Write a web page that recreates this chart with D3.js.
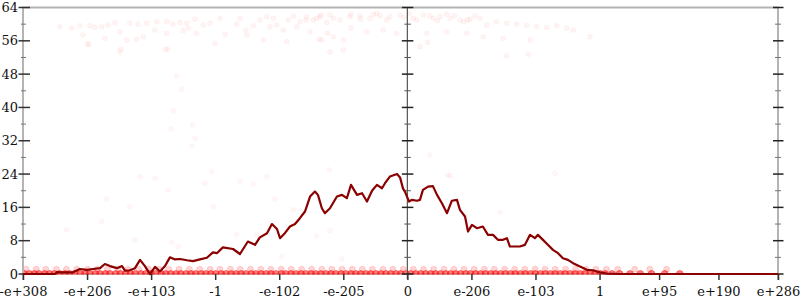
<!DOCTYPE html>
<html>
<head>
<meta charset="utf-8">
<script src="https://cdn.jsdelivr.net/npm/d3@7"></script>
<style>
  body { margin: 0; background: #fff; }
  svg { display: block; font-family: "DejaVu Serif", serif; }
</style>
</head>
<body>
<svg id="chart" width="800" height="300"></svg>
<script>
// x is measured in exponent steps of the float bit pattern, sign folded in
var xTickValues = [-2046, -1705, -1364, -1023, -682, -341, 0, 341, 682, 1023, 1340, 1656, 1973];
var xTickLabels = ["-e+308", "-e+206", "-e+103", "-1", "-e-102", "-e-205", "0",
                   "e-206", "e-103", "1", "e+95", "e+190", "e+286"];
var yTickValues = [0, 8, 16, 24, 32, 40, 48, 56, 64];
var yMinorValues = [4, 12, 20, 28, 36, 44, 52, 60];

// running mean line
var lineX = [-2046, -1876, -1865, -1833, -1780, -1743, -1705, -1673, -1636, -1610, -1583, -1546,
  -1519, -1503, -1477, -1450, -1423, -1397, -1370, -1343, -1317, -1290, -1264, -1237, -1210,
  -1173, -1141, -1104, -1067, -1035, -1014, -982, -928, -891, -849, -811, -785, -747, -721,
  -694, -678, -652, -625, -598, -572, -545, -518, -492, -476, -455, -439, -412, -375, -348,
  -322, -300, -268, -241, -215, -188, -162, -135, -119, -93, -55, -39, -23, -13, 9, 24, 51,
  67, 83, 110, 136, 158, 184, 211, 237, 264, 280, 307, 323, 344, 370, 402, 429, 456, 482,
  509, 530, 546, 573, 599, 626, 653, 679, 695, 722, 748, 775, 802, 828, 855, 882, 919, 956,
  988, 1025, 1062, 1132, 1973];
var lineY = [0, 0, 0.45, 0.4, 0.4, 1.2, 1.0, 1.2, 1.4, 2.4, 1.9, 1.4,
  1.9, 0.8, 0.9, 1.4, 3.4, 1.9, 0, 1.7, 0.6, 1.9, 4.0, 3.5, 3.6,
  3.3, 3.1, 3.5, 3.9, 5.2, 5.0, 6.4, 6.0, 4.8, 7.8, 7.0, 8.8, 9.8, 12.0,
  10.8, 8.6, 9.8, 11.4, 12.0, 13.4, 15.0, 18.6, 19.8, 19.0, 15.8, 14.6, 15.8, 18.6, 19.0,
  18.2, 21.4, 19.0, 19.4, 17.4, 20.0, 21.4, 20.6, 21.8, 23.4, 24.0, 23.2, 20.5, 19.8, 17.4, 17.8, 17.6,
  17.8, 20.2, 21.0, 21.1, 19.0, 17.0, 14.6, 17.6, 17.8, 15.4, 13.8, 10.2, 11.8, 11.0, 11.4, 9.4, 9.4, 8.2,
  8.2, 8.6, 6.6, 6.6, 6.6, 7.0, 9.4, 8.6, 9.4, 8.2, 7.0, 5.8, 5.0, 3.8, 3.4, 2.6, 1.8, 1.0,
  0.9, 0.4, 0.1, 0, 0];

// single samples near the top of the range
var topPoints = [[-1850, 59.4], [-1787, 59.0], [-1743, 59.6], [-1690, 59.6], [-1663, 59.2],
  [-1627, 59.4], [-1594, 59.8], [-1557, 60.4], [-1530, 58.2], [-1727, 57.4], [-1700, 55.2],
  [-1610, 56.6], [-1477, 60.2], [-1434, 60.0], [-1388, 60.2], [-1334, 60.6], [-1281, 60.6],
  [-1248, 60.0], [-1210, 60.4], [-1175, 60.2], [-1131, 61.2], [-1494, 56.2], [-1441, 56.4],
  [-1406, 57.0], [-1344, 58.6], [-1281, 57.8], [-1193, 58.4], [-1166, 59.0], [-1122, 57.8],
  [-1086, 59.8], [-1051, 60.2], [-998, 61.4], [-971, 57.6], [-909, 60.0], [-891, 61.4],
  [-855, 57.4], [-820, 59.6], [-785, 61.0], [-749, 61.8], [-714, 61.4], [-696, 59.8],
  [-661, 58.6], [-634, 61.0], [-607, 61.9], [-572, 60.6], [-536, 61.7], [-501, 61.0],
  [-465, 61.8], [-430, 60.4], [-394, 61.4], [-1024, 55.4], [-767, 56.2], [-642, 55.8],
  [-456, 56.2], [-1525, 54.0], [-1286, 54.0], [-394, 57.0], [-860, 58.6], [-731, 59.4],
  [-589, 59.4], [-540, 61.0], [-483, 61.4], [-412, 62.2], [-359, 61.0], [-306, 61.8],
  [-252, 62.0], [-199, 61.4], [-146, 62.0], [-93, 61.8], [-39, 62.2], [31, 61.4], [85, 62.2],
  [138, 61.4], [174, 61.8], [227, 61.4], [280, 61.0], [334, 61.2], [387, 61.4], [422, 59.8],
  [475, 60.6], [529, 60.2], [582, 60.0], [635, 59.8], [688, 59.4], [742, 59.2], [795, 59.6],
  [848, 59.0], [883, 58.6], [972, 57.0], [-518, 58.2], [-425, 57.8], [-300, 59.0],
  [-217, 58.2], [-128, 58.6], [-57, 57.8], [103, 57.8], [209, 58.2], [316, 57.8], [404, 57.0],
  [510, 56.6], [653, 56.2], [-341, 56.2], [108, 55.6], [-470, 56.4], [-412, 53.4], [529, 52.4],
  [644, 52.8], [-341, 53.8], [67, 54.6], [320, 61.0], [-460, 62.2], [-163, 62.6], [209, 62.4],
  [-300, 62.4], [-250, 61.2], [-180, 62.3], [-110, 61.0], [-20, 61.6], [10, 62.6], [50, 61.0],
  [120, 62.0], [160, 60.8], [250, 62.0], [300, 60.6], [360, 62.0]];

// stray samples in the middle of the range
var midPoints = [[-1814, 10.6], [-1627, 12.6], [-1601, 18.0], [-1477, 16.2], [-1450, 8.2],
  [-1423, 23.4], [-1343, 23.0], [-1273, 20.2], [-1255, 7.6], [-1220, 6.6], [-1078, 21.8],
  [-1042, 24.6], [-1033, 16.2], [-1228, 47.6], [-1201, 44.4], [-1246, 39.2], [-1258, 34.8],
  [-1143, 35.8], [-1131, 32.6], [-1148, 30.8], [-1276, 54.0], [-1530, 53.4], [-1699, 55.2],
  [-891, 22.2], [-820, 21.6], [-749, 23.4], [-705, 18.0], [-607, 15.4], [-909, 9.4],
  [-802, 9.4], [-669, 4.2], [-483, 9.2], [-412, 10.4], [-350, 3.6], [-415, 25.0], [227, 23.6],
  [493, 14.8], [786, 24.2], [120, 28.6], [216, 23.8]];

// samples sitting at zero and at one
var zeroX = [-2040, -2012, -1985, -1961, -1930, -1904, -1878, -1851, -1822, -1799, -1770, -1741,
  -1716, -1690, -1661, -1636, -1608, -1583, -1552, -1527, -1500, -1474, -1449, -1418, -1392,
  -1366, -1340, -1311, -1287, -1259, -1232, -1206, -1178, -1152, -1127, -1098, -1073, -1046,
  -1020, -991, -966, -938, -912, -885, -860, -831, -806, -779, -752, -726, -700, -671, -647,
  -619, -593, -566, -540, -512, -487, -460, -433, -407, -381, -353, -327, -300, -274, -248,
  -220, -195, -167, -141, -114, -88, -60, -35, -8, 18, 45, 71, 98, 124, 150, 177, 204, 230,
  257, 283, 311, 336, 363, 390, 416, 443, 469, 495, 522, 549, 575, 602, 628, 655, 681, 708,
  734, 761, 787, 814, 840, 867, 893, 920, 946, 973, 999, 1026, 1052, 1090, 1130, 1185, 1240,
  1300, 1370, 1450];
var oneX = [-2030, -1975, -1925, -1868, -1815, -1760, -1702, -1650, -1597, -1540, -1488, -1430,
  -1378, -1322, -1270, -1215, -1160, -1105, -1050, -998, -942, -890, -835, -780, -727, -672,
  -618, -563, -510, -455, -402, -348, -293, -240, -186, -130, -77, -22, 32, 86, 140, 195, 248,
  302, 356, 410, 463, 518, 571, 625, 680, 733, 787, 842, 895, 950, 1004, 1060, 1120, 1210,
  1290, 1380];

var margin = {top: 7.5, right: 22, bottom: 26, left: 23}
    , width = 800
    , height = 300
    , svg = d3.select('#chart')
    ;

var x = d3.scaleLinear()
    .domain([xTickValues[0], xTickValues[xTickValues.length - 1]])
    .range([margin.left, width - margin.right]);
var y = d3.scaleLinear()
    .domain([0, 64])
    .range([height - margin.bottom, margin.top]);

var x0 = x.range()[0], x1 = x.range()[1], y0 = y.range()[0], y1 = y.range()[1];

var defs = svg.append('defs');
defs.append('clipPath').attr('id', 'plot')
  .append('rect')
    .attr('x', x0).attr('y', y1)
    .attr('width', x1 - x0).attr('height', y0 - y1 + 0.5);
defs.append('clipPath').attr('id', 'plotLine')
  .append('rect')
    .attr('x', x0).attr('y', y1)
    .attr('width', x1 - x0).attr('height', y0 - y1 + 2);

// frame
svg.append('path')
    .attr('d', 'M' + x0 + ',' + (y0 + 6) + 'V' + y1 + 'H' + x1 + 'V' + (y0 + 6))
    .attr('fill', 'none')
    .attr('stroke', '#b4b4b4')
    .attr('stroke-width', 2);
svg.append('line')
    .attr('x1', x0).attr('x2', x1).attr('y1', y0).attr('y2', y0)
    .attr('stroke', '#b4b4b4').attr('stroke-width', 1.5);

// samples
var dots = svg.append('g').attr('clip-path', 'url(#plot)');

function drawDots(data, r, opacity) {
    dots.append('g')
      .selectAll('circle')
      .data(data)
      .enter().append('circle')
        .attr('cx', function(d) { return x(d[0]); })
        .attr('cy', function(d) { return y(d[1]); })
        .attr('r', r)
        .attr('fill', 'red')
        .attr('fill-opacity', opacity)
        .attr('stroke', 'red')
        .attr('stroke-opacity', opacity * 0.8);
}

drawDots(oneX.map(function(v) { return [v, 1.15]; }), 3, 0.16);
drawDots(zeroX.map(function(v) { return [v, 0]; }), 3.5, 0.5);
drawDots(topPoints, 2.5, 0.045);
drawDots(midPoints, 2.5, 0.035);

// y axes: left, zero line, right
function drawYAxis(px, major, minor, majorColor, minorColor, lineColor, lineWidth) {
    var g = svg.append('g');
    g.append('line')
        .attr('x1', px).attr('x2', px).attr('y1', y1).attr('y2', y0 + 5)
        .attr('stroke', lineColor).attr('stroke-width', lineWidth);
    g.selectAll('line.major').data(yTickValues).enter().append('line')
        .attr('class', 'major')
        .attr('x1', px + major[0]).attr('x2', px + major[1])
        .attr('y1', function(d) { return y(d); }).attr('y2', function(d) { return y(d); })
        .attr('stroke', majorColor).attr('stroke-width', 1.5);
    g.selectAll('line.minor').data(yMinorValues).enter().append('line')
        .attr('class', 'minor')
        .attr('x1', px + minor[0]).attr('x2', px + minor[1])
        .attr('y1', function(d) { return y(d); }).attr('y2', function(d) { return y(d); })
        .attr('stroke', minorColor).attr('stroke-width', 1);
}

drawYAxis(x0, [-4.5, 7], [-2, 3], '#333', '#777', '#b4b4b4', 2);
drawYAxis(x(0), [-5.5, 6], [-3, 3.5], '#222', '#555', '#555', 1.2);
drawYAxis(x1, [-5, 5.5], [-3, 3], '#222', '#777', '#b4b4b4', 2);

// y labels
svg.append('g')
    .attr('font-size', 13)
    .attr('fill', '#111')
  .selectAll('text')
  .data(yTickValues)
  .enter().append('text')
    .attr('x', 18)
    .attr('y', function(d) { return y(d); })
    .attr('dy', '0.36em')
    .attr('text-anchor', 'end')
    .text(function(d) { return d; });

// x axis
var xAxis = d3.axisBottom(x)
    .tickValues(xTickValues)
    .tickFormat(function(d, i) { return xTickLabels[i]; })
    .tickSize(6)
    .tickPadding(7);

var gx = svg.append('g')
    .attr('transform', 'translate(0,' + y0 + ')')
    .call(xAxis);
gx.select('.domain').remove();
gx.selectAll('.tick line').attr('stroke', '#333').attr('stroke-width', 1.5);
gx.selectAll('.tick text')
    .attr('font-family', '"DejaVu Serif", serif')
    .attr('font-size', 13)
    .attr('fill', '#111');

// running mean
var line = d3.line()
    .x(function(d) { return x(d); })
    .y(function(d, i) { return y(lineY[i]); });

svg.append('path')
    .datum(lineX)
    .attr('clip-path', 'url(#plotLine)')
    .attr('d', line)
    .attr('fill', 'none')
    .attr('stroke', '#8b0000')
    .attr('stroke-width', 2.2)
    .attr('stroke-linejoin', 'round');
</script>
</body>
</html>
